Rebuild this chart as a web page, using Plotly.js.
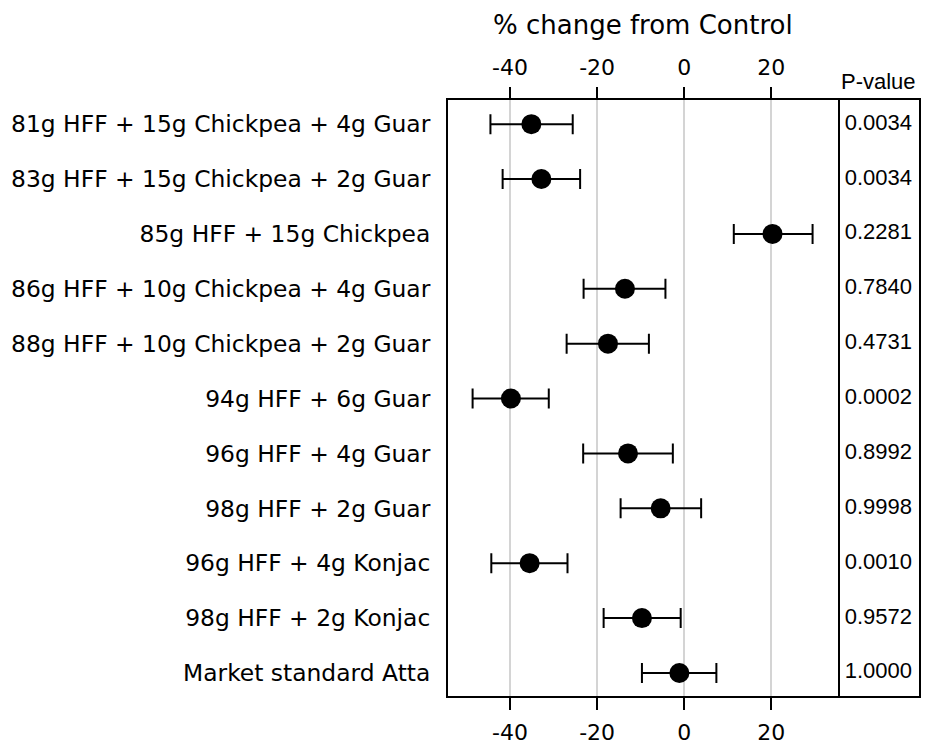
<!DOCTYPE html>
<html>
<head>
<meta charset="utf-8">
<script src="https://cdn.plot.ly/plotly-3.0.1.min.js"></script>
<style>html,body{margin:0;padding:0;background:#fff;}#chart{width:935px;height:746px;}</style>
</head>
<body>
<div id="chart"></div>
<script>
const categories = [
  "81g HFF + 15g Chickpea + 4g Guar",
  "83g HFF + 15g Chickpea + 2g Guar",
  "85g HFF + 15g Chickpea",
  "86g HFF + 10g Chickpea + 4g Guar",
  "88g HFF + 10g Chickpea + 2g Guar",
  "94g HFF + 6g Guar",
  "96g HFF + 4g Guar",
  "98g HFF + 2g Guar",
  "96g HFF + 4g Konjac",
  "98g HFF + 2g Konjac",
  "Market standard Atta"
];
const meanChange = [-35.1, -32.8, 20.3, -13.6, -17.5, -39.8, -12.9, -5.4, -35.5, -9.7, -1.1];
const lowerCI    = [-44.5, -41.7, 11.4, -23.1, -27.0, -48.6, -23.2, -14.6, -44.3, -18.5, -9.7];
const upperCI    = [-25.6, -23.9, 29.5, -4.3, -8.1, -31.1, -2.6, 3.9, -26.8, -0.8, 7.4];
const pValues    = ["0.0034", "0.0034", "0.2281", "0.7840", "0.4731", "0.0002", "0.8992", "0.9998", "0.0010", "0.9572", "1.0000"];
const xTicks = [-40, -20, 0, 20];

const xRange = [-54.25, 35.26];
const yRange = [10.42, -0.44];
const split = 0.8273;
const verd = "DejaVu Sans, Verdana, sans-serif";
const arial = "Liberation Sans, Arial, sans-serif";

const traces = [
  {
    type: "scatter", mode: "markers",
    x: meanChange, y: categories, xaxis: "x", yaxis: "y",
    marker: {size: 20, color: "#000"},
    error_x: {
      type: "data", symmetric: false,
      array: upperCI.map((u, i) => u - meanChange[i]),
      arrayminus: lowerCI.map((l, i) => meanChange[i] - l),
      color: "#000", thickness: 2, width: 10
    },
    hoverinfo: "skip", showlegend: false
  },
  {
    type: "scatter", mode: "markers",
    x: meanChange, y: categories, xaxis: "x3", yaxis: "y",
    marker: {size: 1, opacity: 0}, hoverinfo: "skip", showlegend: false
  },
  {
    type: "scatter", mode: "text",
    x: pValues.map(() => 0.5), y: categories, xaxis: "x2", yaxis: "y2",
    text: pValues, textposition: "middle center",
    textfont: {family: arial, size: 22, color: "#000"},
    hoverinfo: "skip", showlegend: false
  }
];

const layout = {
  width: 935, height: 746,
  margin: {l: 448.3, r: 16, t: 100, b: 50},
  paper_bgcolor: "#fff", plot_bgcolor: "#fff",
  showlegend: false,
  xaxis: {
    domain: [0, split], range: xRange, anchor: "y",
    tickvals: xTicks, ticktext: xTicks.map(String),
    ticks: "outside", ticklen: 12, tickwidth: 2, tickcolor: "#000",
    ticklabelstandoff: 4,
    showline: true, mirror: true, linecolor: "#000", linewidth: 2,
    showgrid: true, gridcolor: "#d4d4d4", gridwidth: 1.5,
    zeroline: false,
    tickfont: {family: verd, size: 22, color: "#000"}
  },
  xaxis3: {
    overlaying: "x", side: "top", range: xRange, anchor: "y",
    tickvals: xTicks, ticktext: xTicks.map(String),
    ticks: "outside", ticklen: 12, tickwidth: 2, tickcolor: "#000",
    ticklabelstandoff: 3,
    showline: false, showgrid: false, zeroline: false,
    tickfont: {family: verd, size: 22, color: "#000"}
  },
  yaxis: {
    type: "category", categoryorder: "array", categoryarray: categories,
    range: yRange, anchor: "x", domain: [0, 1],
    ticks: "", ticklabelstandoff: 11,
    showline: true, mirror: true, linecolor: "#000", linewidth: 2,
    showgrid: false, zeroline: false,
    tickfont: {family: verd, size: 23.4, color: "#000"}
  },
  xaxis2: {
    domain: [split, 1], range: [0, 1], anchor: "y2",
    showticklabels: false, ticks: "", showgrid: false, zeroline: false,
    showline: true, mirror: true, linecolor: "#000", linewidth: 2
  },
  yaxis2: {
    type: "category", categoryorder: "array", categoryarray: categories,
    range: yRange, anchor: "x2", domain: [0, 1], side: "right",
    showticklabels: false, ticks: "", showgrid: false, zeroline: false,
    showline: true, mirror: false, linecolor: "#000", linewidth: 2
  },
  annotations: [
    {
      text: "% change from Control", xref: "paper", yref: "paper",
      x: split / 2, y: 1.126, xanchor: "center", yanchor: "middle",
      showarrow: false, font: {family: verd, size: 26, color: "#000"}
    },
    {
      text: "P-value", xref: "paper", yref: "paper",
      x: (split + 1) / 2, y: 1.0307, xanchor: "center", yanchor: "middle",
      showarrow: false, font: {family: arial, size: 22, color: "#000"}
    }
  ]
};

Plotly.newPlot("chart", traces, layout, {staticPlot: true, displayModeBar: false});
</script>
</body>
</html>
